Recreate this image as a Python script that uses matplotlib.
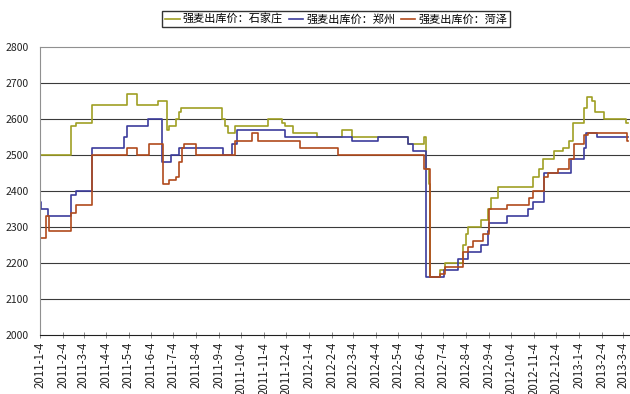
import numpy as np
import pandas as pd
import matplotlib
matplotlib.use('Agg')
import matplotlib.pyplot as plt
import matplotlib.dates as mdates
from matplotlib.ticker import FuncFormatter

plt.rcParams['font.family'] = ['Noto Sans CJK SC', 'DejaVu Sans']

# step series: date of each price change and the new price (yuan/ton)
sjz_dates = ['2011-01-04', '2011-02-15', '2011-02-22', '2011-03-15', '2011-05-02',
             '2011-05-15', '2011-06-13', '2011-06-25', '2011-06-28', '2011-07-08',
             '2011-07-12', '2011-07-14', '2011-09-08', '2011-09-12', '2011-09-16',
             '2011-09-26', '2011-11-09', '2011-11-28', '2011-12-02', '2011-12-13',
             '2012-01-15', '2012-02-18', '2012-03-02', '2012-05-17', '2012-06-07',
             '2012-06-10', '2012-06-15', '2012-06-16', '2012-06-30', '2012-07-06',
             '2012-07-30', '2012-08-03', '2012-08-07', '2012-08-24', '2012-09-03',
             '2012-09-07', '2012-09-16', '2012-11-03', '2012-11-10', '2012-11-16',
             '2012-12-01', '2012-12-13', '2012-12-21', '2012-12-27', '2013-01-11',
             '2013-01-15', '2013-01-22', '2013-01-25', '2013-02-07', '2013-03-09',
             '2013-03-11']
sjz_price = [2500, 2580, 2590, 2640, 2670,
             2640, 2650, 2570, 2580, 2600,
             2620, 2630, 2600, 2580, 2560,
             2580, 2600, 2590, 2580, 2560,
             2550, 2570, 2550, 2530, 2550,
             2460, 2420, 2160, 2180, 2200,
             2250, 2280, 2300, 2320, 2350,
             2380, 2410, 2440, 2460, 2490,
             2510, 2520, 2540, 2590, 2630,
             2660, 2650, 2620, 2600, 2590,
             2590]

zz_dates = ['2011-01-04', '2011-01-05', '2011-01-15', '2011-02-15', '2011-02-22',
            '2011-03-15', '2011-04-28', '2011-05-02', '2011-05-31', '2011-06-19',
            '2011-07-01', '2011-07-12', '2011-09-09', '2011-09-21', '2011-09-28',
            '2011-12-02', '2012-03-02', '2012-04-06', '2012-05-17', '2012-05-24',
            '2012-06-11', '2012-07-05', '2012-07-24', '2012-08-06', '2012-08-24',
            '2012-09-03', '2012-09-04', '2012-09-28', '2012-10-27', '2012-11-03',
            '2012-11-17', '2012-12-24', '2013-01-11', '2013-01-14', '2013-01-28',
            '2013-03-11']
zz_price = [2370, 2350, 2330, 2390, 2400,
            2520, 2550, 2580, 2600, 2480,
            2500, 2520, 2500, 2530, 2570,
            2550, 2540, 2550, 2530, 2510,
            2160, 2180, 2210, 2230, 2250,
            2290, 2310, 2330, 2350, 2370,
            2450, 2490, 2520, 2560, 2550,
            2550]

hz_dates = ['2011-01-04', '2011-01-12', '2011-01-16', '2011-02-15', '2011-02-22',
            '2011-03-15', '2011-03-16', '2011-05-02', '2011-05-16', '2011-06-01',
            '2011-06-20', '2011-06-28', '2011-07-08', '2011-07-12', '2011-07-15',
            '2011-07-18', '2011-08-04', '2011-09-25', '2011-10-18', '2011-10-26',
            '2011-12-22', '2012-02-12', '2012-06-07', '2012-06-16', '2012-06-30',
            '2012-07-06', '2012-07-30', '2012-08-06', '2012-08-13', '2012-08-27',
            '2012-09-04', '2012-09-28', '2012-10-28', '2012-11-03', '2012-11-17',
            '2012-11-23', '2012-12-06', '2012-12-21', '2012-12-28', '2013-01-11',
            '2013-01-16', '2013-03-10', '2013-03-11']
hz_price = [2270, 2330, 2290, 2340, 2360,
            2450, 2500, 2520, 2500, 2530,
            2420, 2430, 2440, 2480, 2520,
            2530, 2500, 2540, 2560, 2540,
            2520, 2500, 2460, 2160, 2170,
            2190, 2230, 2245, 2260, 2280,
            2350, 2360, 2380, 2400, 2440,
            2450, 2460, 2490, 2530, 2555,
            2560, 2540, 2540]

series = [
    ('强麦出库价：石家庄', sjz_dates, sjz_price, '#9f9f24'),
    ('强麦出库价：郑州', zz_dates, zz_price, '#3c3c9c'),
    ('强麦出库价：菏泽', hz_dates, hz_price, '#b04a1c'),
]

fig = plt.figure(figsize=(6.3, 3.94), dpi=100)
ax = fig.add_axes([40 / 630, 59 / 394, 590 / 630, 288 / 394])

for name, d, p, c in series:
    ax.plot(pd.to_datetime(d), p, drawstyle='steps-post', color=c, lw=1.2, label=name)

ax.set_ylim(2000, 2800)
ax.set_yticks(np.arange(2000, 2801, 100))
ax.set_xlim(pd.Timestamp('2011-01-04'), pd.Timestamp('2013-03-14'))

ax.xaxis.set_major_locator(mdates.MonthLocator(bymonthday=4))
ax.xaxis.set_major_formatter(FuncFormatter(
    lambda v, pos: (lambda t: f'{t.year}-{t.month}-{t.day}')(mdates.num2date(v))))

for y in range(2100, 2800, 100):
    ax.axhline(y, color='#3a3a3a', lw=0.8, zorder=0)

ax.spines['right'].set_visible(False)
ax.spines['top'].set_color('#909090')
ax.spines['left'].set_color('#909090')
ax.spines['bottom'].set_color('#202020')

ax.tick_params(axis='y', length=0, pad=8, labelsize=7.5, colors='#222222')
ax.tick_params(axis='x', direction='inout', length=4, width=0.6, color='#777777',
               labelsize=8.3, labelrotation=90, pad=3, labelcolor='#222222')

fig.legend(loc='center', bbox_to_anchor=(0.534, 0.952), ncol=3, fontsize=8,
           frameon=True, fancybox=False, edgecolor='#333333', framealpha=1,
           handlelength=1.3, handletextpad=0.3, columnspacing=0.5,
           borderpad=0.25, borderaxespad=0)

fig.savefig('out.png', dpi=100)
